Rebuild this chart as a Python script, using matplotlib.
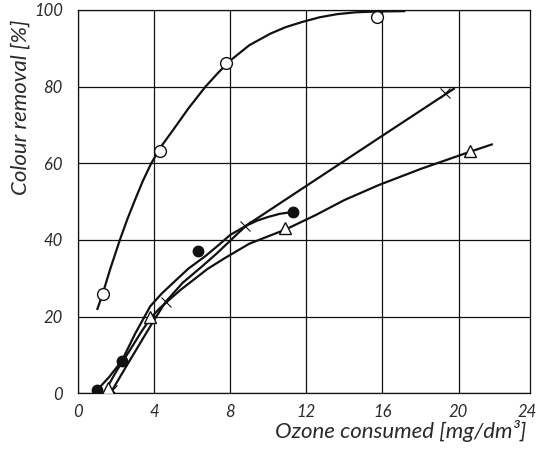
#!/usr/bin/env python3

import matplotlib
matplotlib.use("Agg")
import matplotlib.pyplot as plt

# ======================================================
# DATA  (ozone dose in mg/dm3, colour removal in %)
# ======================================================

# measured points, one set per water sample
open_x = [1.3, 4.3, 7.8, 15.7]
open_y = [26.0, 63.3, 86.2, 98.2]

filled_x = [1.0, 2.3, 6.3, 11.3]
filled_y = [0.8, 8.4, 37.2, 47.4]

cross_x = [1.8, 4.6, 8.8, 19.3]
cross_y = [0.8, 23.8, 43.6, 78.4]

tri_x = [1.6, 3.8, 10.9, 20.6]
tri_y = [1.3, 19.9, 43.1, 63.3]

# hand-drawn trend curves through each set
open_fit_x = [1.0, 1.3, 1.7, 2.2, 2.6, 3.0, 3.4, 3.85, 4.4, 5.0, 5.8, 6.7,
              7.4, 8.0, 9.0, 10.1, 10.9, 11.8, 12.7, 13.6, 14.6, 15.7, 17.2]
open_fit_y = [21.7, 26.0, 32.5, 40.0, 45.5, 50.5, 55.3, 60.0, 64.6, 68.7,
              74.3, 80.0, 83.8, 86.8, 90.8, 93.8, 95.5, 96.9, 98.1, 98.9,
              99.4, 99.6, 99.7]

filled_fit_x = [1.0, 1.6, 2.3, 3.0, 3.8, 4.4, 5.0, 5.8, 6.7, 7.4, 8.0, 8.8,
                9.4, 10.0, 10.6, 11.3]
filled_fit_y = [0.8, 4.0, 8.4, 15.5, 22.7, 26.0, 28.8, 32.5, 35.8, 38.7,
                41.3, 43.6, 45.0, 46.0, 46.8, 47.3]

cross_fit_x = [1.8, 2.5, 3.2, 3.9, 4.6, 5.5, 6.5, 7.3, 8.0, 8.8, 12.0, 16.0,
               19.8]
cross_fit_y = [0.8, 6.7, 12.5, 18.3, 23.8, 28.8, 33.0, 36.5, 39.8, 43.6,
               54.1, 67.2, 79.6]

tri_fit_x = [1.4, 2.0, 2.7, 3.3, 3.8, 4.3, 4.8, 5.4, 6.0, 6.8, 7.7, 9.0,
             10.9, 12.5, 14.0, 15.8, 18.0, 20.6, 21.8]
tri_fit_y = [0.3, 5.6, 11.0, 15.8, 19.5, 22.2, 24.4, 27.0, 29.3, 32.4, 35.2,
             39.0, 42.7, 46.5, 50.4, 54.3, 58.5, 63.0, 65.0]

x_ticks = [0, 4, 8, 12, 16, 20]
y_ticks = [0, 20, 40, 60, 80, 100]

# ======================================================
# PLOT
# ======================================================

plt.rcParams["font.family"] = ["Lato", "DejaVu Sans"]

fig = plt.figure(figsize=(5.38, 4.54), dpi=100)
ax = fig.add_axes([0.145, 0.134, 0.84, 0.844])

ink = "#111111"
text_ink = "#2a2a2a"
lw = 1.6

for fx, fy in [(open_fit_x, open_fit_y), (filled_fit_x, filled_fit_y),
               (cross_fit_x, cross_fit_y), (tri_fit_x, tri_fit_y)]:
    ax.plot(fx, fy, color=ink, lw=lw, solid_joinstyle="round",
            solid_capstyle="butt", zorder=3)

ax.plot(open_x, open_y, "o", ms=8.5, mfc="white", mec=ink, mew=1.0, zorder=4)
ax.plot(filled_x, filled_y, "o", ms=7.5, mfc=ink, mec=ink, zorder=4)
ax.plot(cross_x, cross_y, "x", ms=6.5, mec=ink, mew=0.8, zorder=4)
ax.plot(tri_x, tri_y, "^", ms=9, mfc="white", mec=ink, mew=1.0, zorder=4)

ax.set_xlim(0, 23.75)
ax.set_ylim(0, 100)

ax.set_xticks(x_ticks)
ax.set_yticks(y_ticks)
ax.grid(True, color=ink, lw=0.9)
ax.set_axisbelow(True)
ax.tick_params(length=0, labelsize=12, labelcolor=text_ink)
ax.tick_params(axis="x", pad=8)
ax.tick_params(axis="y", pad=11)
for lab in ax.get_xticklabels() + ax.get_yticklabels():
    lab.set_fontstyle("italic")

# last x tick sits just past the frame
ax.text(23.6, -0.029, "24", transform=ax.get_xaxis_transform(), ha="center",
        va="top", fontsize=12, fontstyle="italic", color=text_ink)

for s in ax.spines.values():
    s.set_color(ink)
    s.set_linewidth(0.9)

ax.set_xlabel("Ozone consumed [mg/dm³]", fontsize=16, fontstyle="italic",
              color=text_ink)
ax.xaxis.set_label_coords(0.715, -0.07)
ax.xaxis.label.set_va("top")
ax.set_ylabel("Colour removal [%]", fontsize=16, fontstyle="italic",
              color=text_ink)
ax.yaxis.set_label_coords(-0.105, 0.745)

plt.savefig("out.png", dpi=100)
plt.close()
